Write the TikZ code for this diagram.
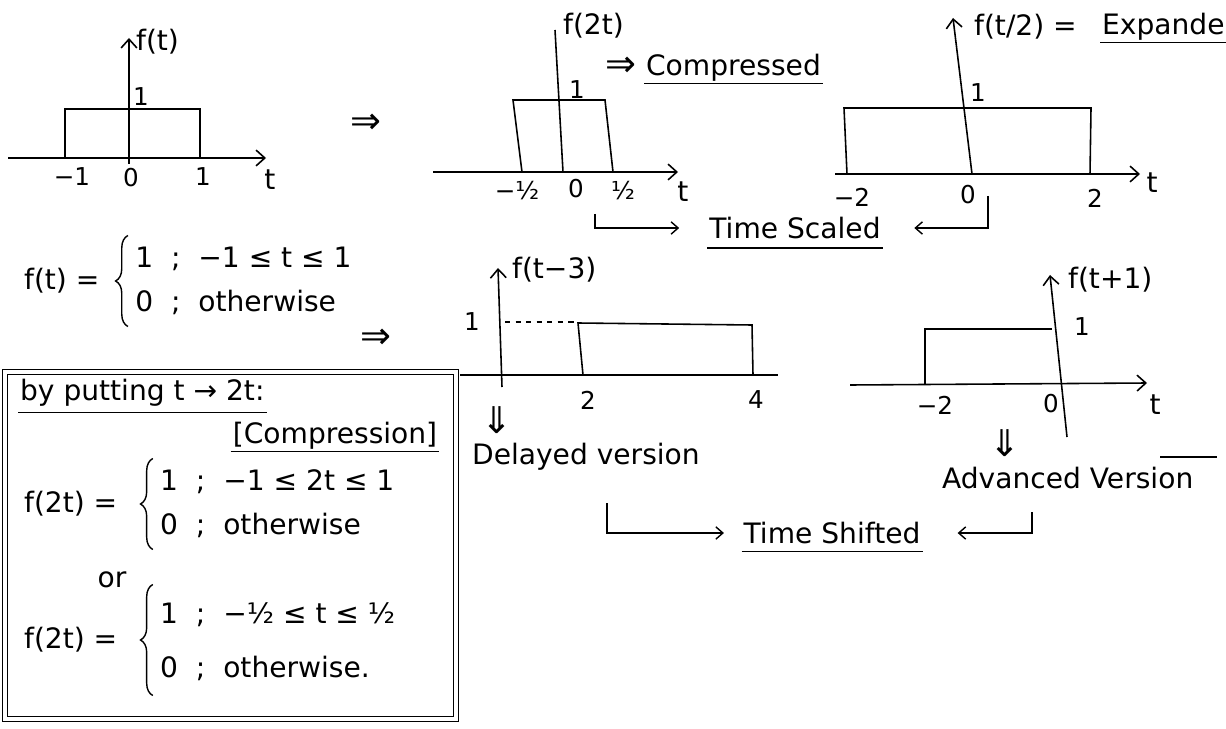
\documentclass[tikz,border=0pt]{standalone}
\usepackage{fontspec}
\setmainfont{DejaVu Sans}
\usetikzlibrary{arrows.meta,positioning,calc,decorations.pathreplacing}

\newcommand{\pwrows}[3][1.3]{\def\arraystretch{#1}\begin{tabular}{@{}l@{\ \ ;\ \ }l@{}}#2\\#3\end{tabular}}

\tikzset{
  hand/.style={font=\fontsize{16}{19}\selectfont, inner sep=1pt},
  tk/.style={font=\fontsize{14}{16}\selectfont, inner sep=1pt},
  bigsym/.style={font=\fontsize{21}{24}\selectfont, inner sep=1pt},
  axis/.style={line width=0.9pt, -{Straight Barb[length=5pt,width=9pt]}},
  pulse/.style={line width=0.9pt},
  link/.style={line width=0.8pt, -{Straight Barb[length=4pt,width=7pt]}},
  uline/.style={line width=0.8pt},
  cbrace/.style={decorate, decoration={brace, amplitude=7pt}, line width=0.8pt},
}

\begin{document}
\begin{tikzpicture}[x=0.02cm, y=-0.02cm]
  \useasboundingbox (0,0) rectangle (1226,729);

  %% f(t)
  \draw[axis] (8,158) -- (266,158);
  \draw[axis] (129,164) -- (129,38);
  \draw[pulse] (65,158) |- (200,109) -- (200,158);
  \node[hand, anchor=west] (ft) at (134,42) {f(t)};
  \node[tk] (ftone) at (141,97) {1};
  \node[tk] (ftm) at (72,177) {−1};
  \node[tk] (ftz) at (131,178) {0};
  \node[tk] (ftp) at (203,177) {1};
  \node[hand] (ftt) at (270,180) {t};
  \node[bigsym] (imp1) at (366,124) {⇒};

  %% f(2t)
  \draw[axis] (433,172) -- (678,172);
  \draw[pulse] (563,172) -- (555,30);
  \draw[pulse] (522,172) -- (513,100) -- (605,100) -- (613,172);
  \node[hand, anchor=west] (fc) at (561,26) {f(2t)};
  \node[tk] (fcone) at (577,90) {1};
  \node[tk] (fcm) at (517,191) {−½};
  \node[tk] (fcz) at (576,189) {0};
  \node[tk] (fcp) at (623,191) {½};
  \node[hand] (fct) at (683,192) {t};
  \node[bigsym] (imp2) at (621,67) {⇒};
  \node[hand, anchor=west] (compr) at (644,68) {Compressed};
  \draw[uline] (compr.south west) -- (compr.south east);

  %% f(t/2)
  \draw[axis] (835,174) -- (1140,174);
  \draw[axis] (972,174) -- (953,18);
  \draw[pulse] (847,174) -- (844,108) -- (1091,108) -- (1090,174);
  \node[hand, anchor=west] (fe) at (972,27) {f(t/2) =};
  \node[hand, anchor=west] (expd) at (1100,27) {Expande};
  \draw[uline] (expd.south west) -- (expd.south east);
  \node[tk] (feone) at (978,93) {1};
  \node[tk] (fem) at (852,197) {−2};
  \node[tk] (fez) at (968,195) {0};
  \node[tk] (fep) at (1095,198) {2};
  \node[hand] (fet) at (1152,183) {t};

  %% time scaled
  \node[hand] (scaled) at (795,228) {Time Scaled};
  \draw[uline] ([yshift=-4pt]scaled.south west) -- ([yshift=-4pt]scaled.south east);
  \coordinate (scL) at (595,214);
  \coordinate (scR) at (988,196);
  \draw[link, shorten >=16pt] (scL) |- (scaled.west);
  \draw[link, shorten >=18pt] (scR) |- (scaled.east);

  %% definition of f(t)
  \node[hand, anchor=west] (eqftl) at (22,281) {f(t) =};
  \node[hand, right=18pt of eqftl] (eqftr) {\pwrows{1 & −1 ≤ t ≤ 1}{0 & otherwise}};
  \draw[cbrace] ([xshift=-3pt]eqftr.south west) -- ([xshift=-3pt]eqftr.north west);
  \node[bigsym] (imp3) at (376,339) {⇒};

  %% compression box
  \draw[double, line width=0.7pt, double distance=2.5pt] (5,372) rectangle (456,719);
  \node[hand, anchor=west] (put) at (18,393) {by putting t → 2t:};
  \draw[uline] ([yshift=-2pt]put.south west) -- ([yshift=-2pt]put.south east);
  \node[hand] (comp) at (335,436) {[Compression]};
  \draw[uline] (comp.south west) -- (comp.south east);
  \node[hand, anchor=west] (eqcl) at (22,504) {f(2t) =};
  \node[hand, right=22pt of eqcl] (eqcr) {\pwrows{1 & −1 ≤ 2t ≤ 1}{0 & otherwise}};
  \draw[cbrace] ([xshift=-3pt]eqcr.south west) -- ([xshift=-3pt]eqcr.north west);
  \node[hand] (or) at (112,580) {or};
  \node[hand, anchor=west] (eqhl) at (22,640) {f(2t) =};
  \node[hand, right=22pt of eqhl] (eqhr) {\pwrows[1.6]{1 & −½ ≤ t ≤ ½}{0 & otherwise.}};
  \draw[cbrace] ([xshift=-3pt]eqhr.south west) -- ([xshift=-3pt]eqhr.north west);

  %% f(t-3)
  \draw[pulse] (460,375) -- (778,375);
  \draw[axis] (502,387) -- (498,268);
  \draw[pulse, dashed] (505,322) -- (576,322);
  \draw[pulse] (583,375) -- (578,323) -- (752,325) -- (753,375);
  \node[hand, anchor=west] (fd) at (510,270) {f(t−3)};
  \node[tk] (fdone) at (472,322) {1};
  \node[tk] (fdtwo) at (588,400) {2};
  \node[tk] (fdfour) at (756,400) {4};
  \node[bigsym] (dn1) at (497,420) {⇓};
  \node[hand, anchor=west] (delay) at (470,457) {Delayed version};

  %% f(t+1)
  \draw[axis] (850,385) -- (1147,383);
  \draw[axis] (1067,437) -- (1050,275);
  \draw[pulse] (925,385) |- (1052,329);
  \node[hand, anchor=west] (fa) at (1066,280) {f(t+1)};
  \node[tk] (faone) at (1082,327) {1};
  \node[tk] (fam) at (935,405) {−2};
  \node[tk] (faz) at (1051,404) {0};
  \node[hand] (fat) at (1155,405) {t};
  \node[bigsym] (dn2) at (1005,443) {⇓};
  \node[hand, anchor=west] (adv) at (940,478) {Advanced Version};
  \draw[uline] (1160,457) -- (1217,457);

  %% time shifted
  \node[hand] (shifted) at (832,533) {Time Shifted};
  \draw[uline] ([yshift=-3pt]shifted.south west) -- ([yshift=-3pt]shifted.south east);
  \coordinate (shL) at (607,503);
  \coordinate (shR) at (1032,512);
  \draw[link, shorten >=10pt] (shL) |- (shifted.west);
  \draw[link, shorten >=20pt] (shR) |- (shifted.east);
\end{tikzpicture}
\end{document}
